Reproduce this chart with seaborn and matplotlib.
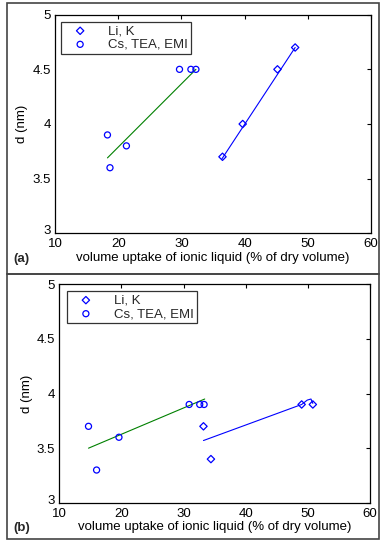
import numpy as np
import pandas as pd
import matplotlib
matplotlib.use("Agg")
import matplotlib.pyplot as plt
import matplotlib.transforms as mtransforms
import seaborn as sns
from matplotlib.patches import Rectangle

# ---------------- data ----------------
xlabel = "volume uptake of ionic liquid (% of dry volume)"
ylabel = "d (nm)"
series_names = ["Li, K", "Cs, TEA, EMI"]
panel_tags = ["(a)", "(b)"]
xticks = [10, 20, 30, 40, 50, 60]
yticks = [3, 3.5, 4, 4.5, 5]

# panel (a)
a_lik_x = [36.5, 39.7, 45.2, 48.0]
a_lik_y = [3.7, 4.0, 4.5, 4.7]
a_cs_x = [18.3, 18.7, 21.3, 29.7, 31.5, 32.3]
a_cs_y = [3.9, 3.6, 3.8, 4.5, 4.5, 4.5]
a_fit_lik_x = [36.4, 48.0]
a_fit_lik_y = [3.68, 4.70]
a_fit_cs_x = [18.3, 32.3]
a_fit_cs_y = [3.69, 4.50]

# panel (b)
b_lik_x = [33.2, 34.4, 49.0, 50.8]
b_lik_y = [3.7, 3.4, 3.9, 3.9]
b_cs_x = [14.7, 16.0, 19.6, 30.9, 32.6, 33.3]
b_cs_y = [3.7, 3.3, 3.6, 3.9, 3.9, 3.9]
b_fit_lik_x = [33.2, 49.0, 49.9, 50.5, 50.8]
b_fit_lik_y = [3.57, 3.90, 3.94, 3.95, 3.91]
b_fit_cs_x = [14.7, 33.4]
b_fit_cs_y = [3.50, 3.95]

# ---------------- style ----------------
sns.set_theme(style="white")
plt.rcParams["font.family"] = ["Liberation Sans", "DejaVu Sans"]
plt.rcParams["font.size"] = 9.5

BLUE = "#0000FF"
GREEN = "#008000"
FS = 9.5

W, H = 384, 542
fig = plt.figure(figsize=(W / 100, H / 100), dpi=100)
fig.patch.set_facecolor("white")

def px_axes(l, t, r, b):
    return fig.add_axes([l / W, 1 - b / H, (r - l) / W, (b - t) / H])

ax_a = px_axes(55, 14.7, 371, 233.3)
ax_b = px_axes(59.3, 284.3, 370, 502.8)

panels = [
    (ax_a, a_lik_x, a_lik_y, a_cs_x, a_cs_y, a_fit_lik_x, a_fit_lik_y, a_fit_cs_x, a_fit_cs_y, (0.019, 0.968)),
    (ax_b, b_lik_x, b_lik_y, b_cs_x, b_cs_y, b_fit_lik_x, b_fit_lik_y, b_fit_cs_x, b_fit_cs_y, (0.024, 0.969)),
]

for i, (ax, lx, ly, cx, cy, flx, fly, fcx, fcy, lpos) in enumerate(panels):
    sns.scatterplot(x=lx, y=ly, ax=ax, marker="D", s=14, facecolor="none",
                    edgecolor=BLUE, linewidth=0.9, label=series_names[0], zorder=3)
    sns.scatterplot(x=cx, y=cy, ax=ax, marker="o", s=19, facecolor="none",
                    edgecolor=BLUE, linewidth=0.9, label=series_names[1], zorder=3)
    sns.lineplot(x=flx, y=fly, ax=ax, sort=False, color=BLUE, linewidth=0.8,
                 estimator=None, legend=False, zorder=2)
    sns.lineplot(x=fcx, y=fcy, ax=ax, sort=False, color=GREEN, linewidth=0.8,
                 estimator=None, legend=False, zorder=2)
    ax.set_xlim(10, 60)
    ax.set_ylim(3, 5)
    ax.set_xticks(xticks)
    ax.set_xticklabels([str(t) for t in xticks])
    ax.set_yticks(yticks)
    ax.set_yticklabels([f"{t:g}" for t in yticks])
    ax.tick_params(direction="in", length=3, width=0.8, top=True, right=True,
                   labelsize=FS, colors="black")
    ax.tick_params(axis="x", pad=3.5)
    ax.tick_params(axis="y", pad=3)
    # lift the lowest y tick label a little so it sits above the "10"
    lbl = ax.get_yticklabels()[0]
    lbl.set_transform(lbl.get_transform() +
                      mtransforms.ScaledTranslation(0, 2.5 / 72, fig.dpi_scale_trans))
    for sp in ax.spines.values():
        sp.set_visible(True)
        sp.set_color("black")
        sp.set_linewidth(0.9)
    ax.set_xlabel(xlabel, fontsize=FS, labelpad=1, color="black")
    ax.set_ylabel(ylabel, fontsize=FS, labelpad=3, color="black")
    ax.set_facecolor("white")
    leg = ax.legend(loc="upper left", bbox_to_anchor=lpos, borderaxespad=0,
                    fancybox=False, frameon=True, fontsize=FS, handletextpad=0.9,
                    borderpad=0.25, labelspacing=0.1, handlelength=2.4)
    leg.get_frame().set_edgecolor("black")
    leg.get_frame().set_linewidth(0.9)

fig.text(13 / W, 1 - 259 / H, panel_tags[0], fontsize=FS, fontweight="bold", va="center", ha="left")
fig.text(13 / W, 1 - 528 / H, panel_tags[1], fontsize=FS, fontweight="bold", va="center", ha="left")

# outer frames
for (t, b) in [(3, 274), (274, 539)]:
    fig.add_artist(Rectangle((7 / W, 1 - b / H), (379 - 7) / W, (b - t) / H,
                             transform=fig.transFigure, fill=False,
                             edgecolor="#444444", linewidth=1.2))

fig.savefig("out.png", dpi=100)
